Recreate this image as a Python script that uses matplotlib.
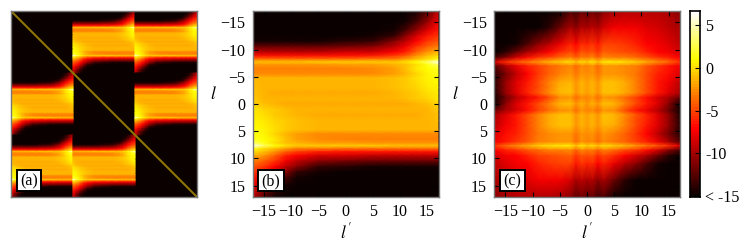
import numpy as np
import matplotlib
matplotlib.use("Agg")
import matplotlib.pyplot as plt

plt.rcParams['font.family'] = ['Liberation Serif', 'DejaVu Serif']
plt.rcParams['mathtext.fontset'] = 'stix'

VMIN, VMAX = -15.1, 6.64
tick_vals = [-15, -10, -5, 0, 5, 10, 15]
cbar_ticks = [-15, -10, -5, 0, 5]
cbar_labels = ['< -15', '-10', '-5', '0', '5']

# panel (b): rows l <= 0; the map has point symmetry about the centre
b_cols = [-17, -15, -13, -11, -9, -5, 0, 5, 9, 11, 13, 15, 17]
b_rows = [-17, -15, -13.5, -12.5, -11.5, -10.5, -9.5, -8.8, -8.2, -7.7, -7.2, -6.5, -5.5, -4.8, -3, -2, -1, 0]
b_half = [
    [-15, -15, -15, -15, -15, -15, -15, -15, -15, -15, -14.5, -12.5, -9],
    [-15, -15, -15, -15, -15, -15, -15, -15, -15, -14.5, -13, -10.5, -7.5],
    [-15, -15, -15, -15, -15, -15, -15, -15, -14.5, -13, -10.5, -8, -6.5],
    [-15, -15, -15, -15, -15, -15, -15, -14.5, -13.5, -11, -8.5, -6.5, -5.5],
    [-14.5, -14.5, -14.5, -14.5, -14.5, -14.5, -14, -13.5, -11, -9, -7, -5.5, -4.5],
    [-12, -12, -12, -12, -12, -12, -11.5, -11, -9, -7.5, -5.5, -4, -3],
    [-9, -9, -9, -9, -9, -9, -8.5, -8.5, -7, -6, -4, -2.5, -1.5],
    [-6.5, -6.5, -6.5, -6.5, -6.5, -6.5, -6.3, -6, -5, -4, -2.5, -1, 0],
    [-3.5, -3.5, -3.5, -3.5, -3.5, -3.4, -3.3, -3.2, -3, -2, -1, 0, 1.5],
    [-1, -0.9, -0.9, -0.9, -0.9, -0.8, -0.8, -0.8, -0.5, 0, 1, 3, 6],
    [-2.2, -2.2, -2.2, -2.2, -2.2, -2.2, -2.1, -2, -1.5, -1, 0, 1.5, 3],
    [-3, -3, -3, -3, -3, -3, -3, -2.8, -2, -1, 0.3, 1.2, 1.8],
    [-2.8, -2.8, -2.8, -2.8, -2.8, -2.8, -2.8, -2.6, -2, -1.2, -0.3, 0.8, 1.5],
    [-1.2, -1.4, -1.4, -1.4, -1.4, -1.4, -1.4, -1.3, -1, -0.7, 0, 0.8, 1.2],
    [-1, -1.3, -1.3, -1.3, -1.3, -1.3, -1.3, -1.3, -1.1, -0.8, -0.3, 0.3, 0.8],
    [-1, -1.5, -1.6, -1.6, -1.6, -1.6, -1.6, -1.6, -1.4, -1, -0.6, 0, 0.5],
    [-0.8, -1.2, -1.3, -1.3, -1.3, -1.3, -1.3, -1.3, -1.2, -1, -0.6, -0.2, 0.3],
    [-0.3, -0.9, -1.4, -1.7, -1.8, -1.8, -1.8, -1.8, -1.8, -1.7, -1.4, -0.9, -0.3],
]

# panel (c): same arrangement
c_cols = [-17, -15, -13, -11, -9, -7, -5, -3, -2, -1, 0, 1, 2, 3, 5, 7, 9, 11, 13, 15, 17]
c_rows = [-17, -14, -11, -9.5, -8.5, -7.7, -7, -5.5, -4, -3, -2, -1.2, 0]
c_half = [
    [-15, -15, -15, -15, -15, -15, -14.5, -12.5, -13.3, -12, -12.2, -11.5, -12.3, -11, -10, -9.5, -9.5, -9.5, -9.5, -10, -11],
    [-15, -15, -15, -15, -15, -14, -12, -10, -10.7, -9.5, -9.7, -9, -9.8, -8.5, -7.5, -7.3, -7.5, -8, -8.5, -9, -10],
    [-15, -15, -14.5, -13, -11, -9.5, -7.8, -6, -7, -5.8, -6.1, -5.5, -6.5, -5.2, -5.2, -5.5, -6, -7, -7.5, -8, -9],
    [-15, -14, -12, -10, -8.5, -7.2, -5.8, -4.7, -5.6, -4.5, -4.7, -4.3, -5.3, -4.2, -4.3, -4.6, -5, -6, -7, -7.5, -8.5],
    [-13, -11, -8.5, -6.8, -5.5, -4.6, -3.8, -3.2, -4.1, -3, -3.3, -2.8, -3.9, -2.8, -3, -3.2, -3.7, -4.5, -5.5, -6.2, -7],
    [-8, -5.8, -4.5, -3.3, -2.3, -1.4, -0.7, -0.1, -1, 0, -0.5, 0.2, -0.9, 0.2, 0.4, 0, -0.7, -1.7, -2.8, -3.8, -5.5],
    [-12.5, -10, -7.8, -6, -5, -4, -3.3, -2.8, -3.8, -2.6, -3, -2.4, -3.6, -2.5, -2.4, -2.7, -3.2, -4.3, -5.3, -6.3, -7.5],
    [-14, -11.5, -9, -7, -5.5, -4.1, -3, -2.5, -3.4, -2.4, -2.8, -2.2, -3.4, -2.2, -2.3, -2.8, -3.5, -4.8, -6, -6.8, -8],
    [-14, -10.5, -8, -6.3, -4.8, -3.2, -1.6, -1.2, -2.5, -1.4, -2, -1.3, -2.5, -1.1, -1.1, -1.7, -3, -4.8, -6.4, -7.5, -9],
    [-14, -10.5, -8, -6.2, -4.6, -3, -1.5, -1.1, -2.4, -1.3, -2, -1.2, -2.4, -1, -1, -1.6, -3, -4.8, -6.5, -7.7, -9.5],
    [-14.3, -10.5, -8, -6, -4.4, -2.7, -1.3, -1.1, -2.4, -1.3, -2, -1.2, -2.4, -1, -1, -1.6, -3, -4.9, -6.6, -8, -10],
    [-14.5, -12, -9.5, -7.8, -6.5, -4.6, -2.8, -2.4, -3.6, -2.6, -3.2, -2.4, -3.6, -2.4, -2.6, -3.6, -5, -6.8, -8.5, -10, -12],
    [-14.5, -11, -8.3, -6.3, -4.6, -3, -1.5, -1.1, -2.5, -1.5, -2.2, -1.5, -2.5, -1.1, -1.5, -3, -4.6, -6.3, -8.3, -11, -14.5],
]

# blocks of panel (a) that carry the panel (b) map: (row, column)
a_blocks = [(0, 1), (0, 2), (1, 0), (1, 2), (2, 0), (2, 1)]
a_labels = ['(a)', '(b)', '(c)']


def full_map(rows, half):
    h = np.array(half, float)
    r = np.array(rows, float)
    return np.r_[r, -r[-2::-1]], np.vstack([h, h[-2::-1, ::-1]])


W, H = 747, 248
fig = plt.figure(figsize=(W / 100, H / 100), dpi=100)
cmap = plt.get_cmap('hot', 64)
spine_c = '#777777'


def px_axes(x0, y0, x1, y1):
    return fig.add_axes([x0 / W, 1 - y1 / H, (x1 - x0) / W, (y1 - y0) / H])


def style(ax):
    for s in ax.spines.values():
        s.set_color(spine_c)
        s.set_linewidth(1.0)


def box(ax, x0, y0, x1, y1, label):
    fx0, fx1 = x0 / W, x1 / W
    fy0, fy1 = 1 - y1 / H, 1 - y0 / H
    ax.add_patch(plt.Rectangle((fx0, fy0), fx1 - fx0, fy1 - fy0, transform=fig.transFigure,
                               fc='white', ec='black', lw=1.4, zorder=10, clip_on=False))
    ax.text((fx0 + fx1) / 2, (fy0 + fy1) / 2 - 0.002, label, transform=fig.transFigure,
            ha='center', va='center', fontsize=11.5, zorder=11)


rb, Zb = full_map(b_rows, b_half)
rc, Zc = full_map(c_rows, c_half)
xb = np.array(b_cols, float)
xc = np.array(c_cols, float)

# panel (a)
axa = px_axes(11, 11, 197, 197)
axa.set_facecolor(cmap(0))
span = 34.0
for (i, j) in a_blocks:
    axa.pcolormesh(j + (xb + 17) / span, i + (rb + 17) / span, Zb, shading='gouraud',
                   cmap=cmap, vmin=VMIN, vmax=VMAX)
axa.plot([0, 3], [0, 3], color='#8c7600', lw=1.5)
axa.set_xlim(0, 3)
axa.set_ylim(3, 0)
axa.set_xticks([])
axa.set_yticks([])
style(axa)
box(axa, 17, 170, 41, 191, a_labels[0])

# panels (b), (c)
pos = [(252.5, 438.5), (494, 680)]
for k, (x, r, Z) in enumerate([(xb, rb, Zb), (xc, rc, Zc)]):
    x0, x1 = pos[k]
    ax = px_axes(x0, 11, x1, 197)
    ax.set_facecolor(cmap(0))
    ax.pcolormesh(x, r, Z, shading='gouraud', cmap=cmap, vmin=VMIN, vmax=VMAX)
    ax.set_xlim(-17.1, 17.1)
    ax.set_ylim(17.1, -17.1)
    ax.set_xticks(tick_vals)
    ax.set_yticks(tick_vals)
    ax.tick_params(direction='in', top=True, right=True, length=3.5, width=0.8,
                   labelsize=11.5, pad=5)
    ax.set_xlabel(r"$l'$", fontsize=12.5, labelpad=1.5)
    ax.set_ylabel(r"$l$", fontsize=12.5, rotation=0, labelpad=5, va='center', y=0.55)
    style(ax)
    box(ax, x0 + 5.5, 170, x0 + 31, 191, a_labels[k + 1])

# colour bar
cax = px_axes(690, 11, 699.5, 197)
grad = np.linspace(VMIN, VMAX, 64)[:, None]
cax.imshow(grad, origin='lower', aspect='auto', cmap=cmap, vmin=VMIN, vmax=VMAX,
           extent=[0, 1, VMIN, VMAX], interpolation='nearest')
cax.set_xticks([])
cax.yaxis.tick_right()
cax.set_yticks(cbar_ticks)
cax.set_yticklabels(cbar_labels)
cax.tick_params(direction='in', length=3.5, width=0.8, labelsize=11.5, pad=4)
for s in cax.spines.values():
    s.set_linewidth(1.2)

fig.savefig('out.png', dpi=100)
